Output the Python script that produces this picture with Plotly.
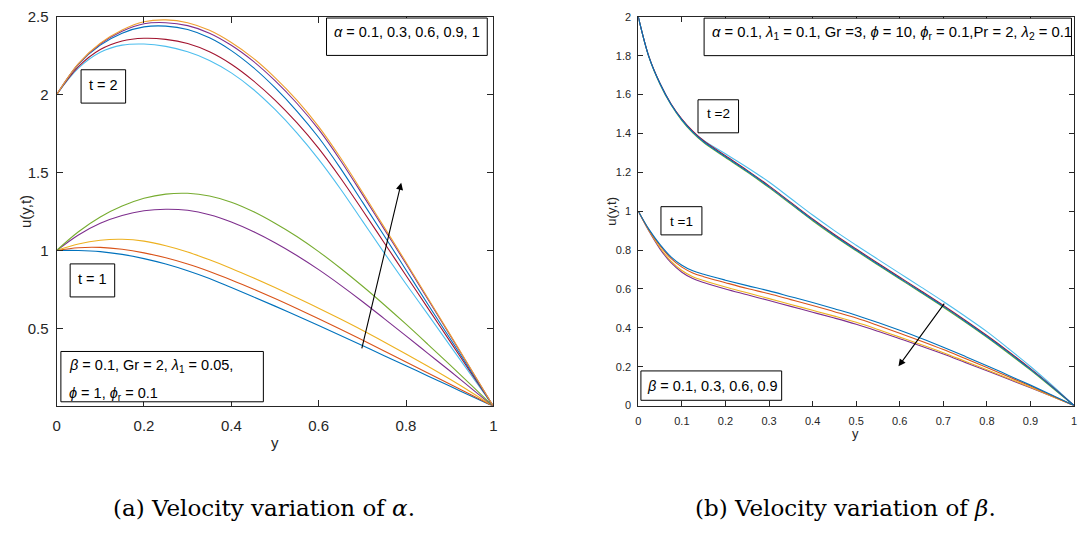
import plotly.graph_objects as go

# ---------------- Panel (a): velocity variation of alpha ----------------
xa = [0, 0.05, 0.1, 0.15, 0.2, 0.25, 0.3, 0.35, 0.4, 0.45, 0.5,
      0.55, 0.6, 0.65, 0.7, 0.75, 0.8, 0.85, 0.9, 0.95, 1.0]
alpha_labels = ["0.1", "0.3", "0.6", "0.9", "1"]

# t = 1
a_t1_blue   = [1.0, 1.0, .993, .975, .948, .913, .87, .82, .762, .703, .643,
               .581, .519, .455, .39, .325, .26, .195, .13, .065, 0]
a_t1_orange = [1.0, 1.018, 1.02, 1.008, .985, .953, .913, .865, .811, .753, .692,
               .628, .562, .494, .425, .355, .285, .214, .143, .072, 0]
a_t1_yellow = [1.0, 1.042, 1.066, 1.072, 1.06, 1.03, .99, .94, .885, .825, .762,
               .697, .63, .56, .488, .413, .336, .257, .175, .089, 0]
a_t1_purple = [1.0, 1.10, 1.175, 1.225, 1.255, 1.265, 1.258, 1.23, 1.183, 1.122, 1.05,
               .968, .877, .778, .673, .563, .452, .34, .228, .114, 0]
a_t1_green  = [1.0, 1.12, 1.215, 1.285, 1.335, 1.362, 1.367, 1.35, 1.31, 1.25, 1.175,
               1.09, .993, .886, .772, .652, .527, .398, .267, .134, 0]

# t = 2
a_t2_lblue  = [2.0, 2.17, 2.272, 2.318, 2.325, 2.31, 2.275, 2.22, 2.14, 2.035, 1.905,
               1.755, 1.585, 1.395, 1.19, .985, .785, .59, .393, .197, 0]
a_t2_dred   = [2.0, 2.18, 2.29, 2.345, 2.362, 2.355, 2.328, 2.275, 2.195, 2.09, 1.965,
               1.82, 1.655, 1.465, 1.26, 1.05, .84, .63, .42, .21, 0]
a_t2_blue   = [2.0, 2.195, 2.318, 2.395, 2.435, 2.44, 2.418, 2.365, 2.283, 2.175, 2.045,
               1.895, 1.725, 1.527, 1.312, 1.095, .875, .655, .438, .219, 0]
a_t2_purple = [2.0, 2.198, 2.325, 2.407, 2.455, 2.462, 2.443, 2.395, 2.317, 2.215, 2.09,
               1.945, 1.777, 1.578, 1.36, 1.137, .915, .687, .46, .23, 0]
a_t2_orange = [2.0, 2.20, 2.33, 2.415, 2.468, 2.48, 2.462, 2.413, 2.335, 2.235, 2.11,
               1.965, 1.795, 1.595, 1.375, 1.15, .925, .695, .465, .233, 0]

# ---------------- Panel (b): velocity variation of beta ----------------
xb = [0, 0.025, 0.05, 0.075, 0.1, 0.125, 0.15, 0.2, 0.25, 0.3, 0.35, 0.4, 0.45, 0.5,
      0.55, 0.6, 0.65, 0.7, 0.75, 0.8, 0.85, 0.9, 0.95, 1.0]
beta_labels = ["0.1", "0.3", "0.6", "0.9"]

b_t1_blue   = [1, .905, .828, .765, .722, .693, .675, .645, .617, .59, .56, .53, .498, .465,
               .427, .387, .345, .30, .253, .205, .155, .105, .053, 0]
b_t1_orange = [1, .902, .822, .757, .712, .682, .663, .632, .602, .575, .545, .515, .483, .45,
               .412, .372, .331, .288, .242, .196, .148, .10, .05, 0]
b_t1_yellow = [1, .898, .812, .743, .695, .663, .643, .61, .58, .55, .52, .49, .46, .428,
               .391, .352, .313, .272, .228, .184, .139, .094, .047, 0]
b_t1_purple = [1, .895, .805, .735, .686, .653, .633, .60, .57, .54, .51, .48, .45, .418,
               .382, .344, .305, .265, .222, .179, .135, .091, .046, 0]

b_t2_green  = [2, 1.789, 1.652, 1.547, 1.466, 1.403, 1.353, 1.276, 1.201, 1.121, 1.036, .951,
               .871, .796, .723, .651, .579, .506, .43, .351, .268, .182, .091, 0]
b_t2_lblue  = [2, 1.79, 1.655, 1.55, 1.471, 1.41, 1.364, 1.295, 1.225, 1.15, 1.065, .98,
               .90, .825, .752, .68, .608, .535, .459, .38, .292, .201, .103, 0]
b_t2_dred   = [2, 1.791, 1.657, 1.553, 1.474, 1.412, 1.362, 1.285, 1.21, 1.13, 1.045, .96,
               .88, .805, .732, .66, .588, .515, .439, .36, .277, .19, .097, 0]
b_t2_blue   = [2, 1.79, 1.655, 1.55, 1.47, 1.407, 1.357, 1.28, 1.205, 1.125, 1.04, .955,
               .875, .80, .727, .655, .583, .51, .434, .355, .272, .186, .095, 0]

# tick labels
a_xticks = [0, 0.2, 0.4, 0.6, 0.8, 1]
a_xtext = ["0", "0.2", "0.4", "0.6", "0.8", "1"]
a_yticks = [0.5, 1, 1.5, 2, 2.5]
a_ytext = ["0.5", "1", "1.5", "2", "2.5"]
b_xticks = [0, 0.1, 0.2, 0.3, 0.4, 0.5, 0.6, 0.7, 0.8, 0.9, 1]
b_xtext = ["0", "0.1", "0.2", "0.3", "0.4", "0.5", "0.6", "0.7", "0.8", "0.9", "1"]
b_yticks = [0, 0.2, 0.4, 0.6, 0.8, 1, 1.2, 1.4, 1.6, 1.8, 2]
b_ytext = ["0", "0.2", "0.4", "0.6", "0.8", "1", "1.2", "1.4", "1.6", "1.8", "2"]

C_BLUE, C_ORANGE, C_YELLOW = "#0072BD", "#D95319", "#EDB120"
C_PURPLE, C_GREEN, C_LBLUE, C_DRED = "#7E2F8E", "#77AC30", "#4DBEEE", "#A2142F"
C_TOPOR = "#F0A030"

fig = go.Figure()

def add(x, y, color, xa_="x", ya_="y"):
    fig.add_trace(go.Scatter(x=x, y=y, mode="lines", xaxis=xa_, yaxis=ya_,
                             line=dict(color=color, width=1.1, shape="spline", smoothing=1.0),
                             showlegend=False, hoverinfo="skip"))

for ys, c in [(a_t1_blue, C_BLUE), (a_t1_orange, C_ORANGE), (a_t1_yellow, C_YELLOW),
              (a_t1_purple, C_PURPLE), (a_t1_green, C_GREEN),
              (a_t2_lblue, C_LBLUE), (a_t2_dred, C_DRED), (a_t2_blue, C_BLUE),
              (a_t2_purple, C_PURPLE), (a_t2_orange, C_TOPOR)]:
    add(xa, ys, c)

for ys, c in [(b_t1_purple, C_PURPLE), (b_t1_yellow, C_YELLOW), (b_t1_orange, C_ORANGE),
              (b_t1_blue, C_BLUE),
              (b_t2_green, C_GREEN), (b_t2_lblue, C_LBLUE), (b_t2_dred, C_DRED),
              (b_t2_blue, C_BLUE)]:
    add(xb, ys, c, "x2", "y2")

W, H = 1088, 534
AX = "#262626"
FONT = "Liberation Sans, Arial, sans-serif"

def axis_common(size, tlen):
    return dict(showline=True, linecolor=AX, linewidth=1, mirror="ticks",
                ticks="inside", ticklen=tlen, tickwidth=1, tickcolor=AX,
                showgrid=False, zeroline=False,
                tickfont=dict(family=FONT, size=size, color=AX))

fig.update_layout(
    width=W, height=H, margin=dict(l=0, r=0, t=0, b=0),
    paper_bgcolor="white", plot_bgcolor="white",
    xaxis=dict(domain=[53 / W, 493 / W], range=[0, 1], tickvals=a_xticks, ticktext=a_xtext,
               anchor="y", ticklabelstandoff=6, **axis_common(15, 6)),
    yaxis=dict(domain=[1 - 408 / H, 1 - 8 / H], range=[0.005, 2.5], tickvals=a_yticks,
               ticktext=a_ytext, anchor="x", ticklabelstandoff=4, **axis_common(15, 6)),
    xaxis2=dict(domain=[639 / W, 1078 / W], range=[0, 1], tickvals=b_xticks, ticktext=b_xtext,
                anchor="y2", ticklabelstandoff=5, **axis_common(11, 5)),
    yaxis2=dict(domain=[1 - 408 / H, 1 - 8 / H], range=[0, 2], tickvals=b_yticks,
                ticktext=b_ytext, anchor="x2", ticklabelstandoff=4, **axis_common(11, 5)),
)

def box(x0, x1, y0, y1, xr="x", yr="y"):
    fig.add_shape(type="rect", xref=xr, yref=yr, x0=x0, x1=x1, y0=y0, y1=y1,
                  line=dict(color="black", width=1), fillcolor="white", layer="above")

def txt(x, y, s, size, xr="x", yr="y", xanchor="left"):
    fig.add_annotation(x=x, y=y, xref=xr, yref=yr, text=s, showarrow=False,
                       xanchor=xanchor, yanchor="middle",
                       font=dict(family=FONT, size=size, color="black"))

# Panel (a) text boxes
box(0.618, 0.986, 2.252, 2.492)
txt(0.63, 2.40, "<i>α</i> = " + ", ".join(alpha_labels), 14.5)
box(0.056, 0.158, 1.946, 2.16)
txt(0.107, 2.06, "t = 2", 14.5, xanchor="center")
box(0.031, 0.133, 0.702, 0.914)
txt(0.082, 0.82, "t = 1", 14.5, xanchor="center")
box(0.0098, 0.4734, 0.029, 0.352)
txt(0.0235, 0.258, "<i>β</i> = 0.1, Gr = 2, <i>λ</i><sub>1</sub> = 0.05,", 14.5)
txt(0.0235, 0.081, "<i>ϕ</i> = 1, <i>ϕ</i><sub>r</sub> = 0.1", 14.5)

# Panel (b) text boxes
box(0.151, 0.994, 1.80, 1.993, "x2", "y2")
txt(0.164, 1.915, "<i>α</i> = 0.1, <i>λ</i><sub>1</sub> = 0.1, Gr =3, <i>ϕ</i> = 10, <i>ϕ</i><sub>r</sub> = 0.1,Pr = 2, <i>λ</i><sub>2</sub> = 0.1", 14.8, "x2", "y2")
box(0.137, 0.23, 1.403, 1.573, "x2", "y2")
txt(0.1835, 1.503, "t =2", 13.5, "x2", "y2", xanchor="center")
box(0.052, 0.146, 0.878, 1.023, "x2", "y2")
txt(0.099, 0.948, "t =1", 13.5, "x2", "y2", xanchor="center")
box(0.006, 0.329, 0.027, 0.178, "x2", "y2")
txt(0.016, 0.103, "<i>β</i> = " + ", ".join(beta_labels), 14.5, "x2", "y2")

# Arrows
fig.add_annotation(x=0.789, y=1.435, ax=0.698, ay=0.3625, xref="x", yref="y",
                   axref="x", ayref="y", text="", showarrow=True, arrowhead=2,
                   arrowsize=1.3, arrowwidth=1.1, arrowcolor="black")
fig.add_annotation(x=0.597, y=0.2017, ax=0.7046, ay=0.532, xref="x2", yref="y2",
                   axref="x2", ayref="y2", text="", showarrow=True, arrowhead=2,
                   arrowsize=1.3, arrowwidth=1.1, arrowcolor="black")

# Axis titles
def ptxt(px, py, s, size, angle=0, family=FONT):
    fig.add_annotation(x=px / W, y=1 - py / H, xref="paper", yref="paper", text=s,
                       showarrow=False, textangle=angle, xanchor="center", yanchor="middle",
                       font=dict(family=family, size=size, color=AX if family == FONT else "black"))

ptxt(21, 208, "u(y,t)", 15, -90)
ptxt(273, 446, "y", 15)
ptxt(612, 208, "u(y,t)", 13, -90)
ptxt(858, 437, "y", 13)

SERIF = "DejaVu Serif, Liberation Serif, serif"
ptxt(262, 513, "(a) Velocity variation of <i>α</i>.", 23, 0, SERIF)
ptxt(848, 513, "(b) Velocity variation of <i>β</i>.", 23, 0, SERIF)

fig.write_html("out.html")
